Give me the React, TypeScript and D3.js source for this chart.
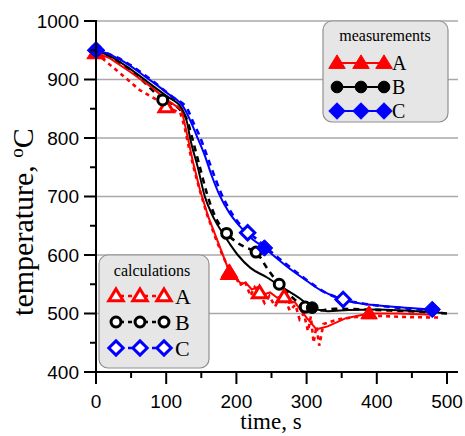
import React from "react";
import * as d3 from "d3";

// ---------- data ----------
const xTicks = [0, 100, 200, 300, 400, 500];
const yTicks = [400, 500, 600, 700, 800, 900, 1000];
const gridValues = [500, 600, 700, 800, 900, 1000];

// measurements (solid)
const measA_t = [0, 20, 50, 80, 100, 122, 129, 138, 148, 160, 176, 190, 200, 207, 213, 222, 230, 240, 248, 258, 265, 275, 283, 292, 300, 314, 330, 356, 389, 430, 480];
const measA_T = [946, 936, 912, 886, 866, 848, 810, 760, 712, 665, 615, 571, 560, 550, 553, 541, 545, 533, 536, 527, 530, 518, 520, 505, 493, 473, 478, 492, 500, 500, 498];
const measB_t = [0, 20, 50, 80, 100, 122, 130, 134, 145, 155, 165, 179, 190, 202, 220, 243, 265, 290, 308, 330, 360, 400, 440, 495];
const measB_T = [950, 940, 917, 890, 872, 851, 825, 800, 750, 700, 670, 640, 620, 600, 578, 562, 545, 526, 510, 504, 506, 507, 505, 501];
const measC_t = [0, 15, 40, 70, 100, 126, 135, 143, 155, 165, 175, 190, 205, 220, 240, 260, 280, 300, 320, 340, 360, 400, 440, 480];
const measC_T = [950, 945, 930, 905, 878, 850, 828, 805, 770, 735, 705, 672, 649, 630, 612, 592, 573, 556, 540, 529, 521, 514, 510, 507];

// calculations (dashed)
const calcA_t = [0, 20, 40, 62, 87, 100, 120, 126, 133, 140, 148, 158, 170, 180, 190, 198, 205, 212, 220, 226, 233, 240, 247, 255, 262, 268, 276, 284, 290, 296, 302, 306, 310, 314, 318, 324, 332, 345, 370, 400, 440, 490];
const calcA_T = [945, 925, 905, 882, 865, 853, 843, 820, 780, 745, 710, 670, 630, 600, 575, 565, 548, 556, 530, 545, 535, 518, 530, 512, 526, 528, 505, 515, 490, 500, 470, 495, 450, 478, 445, 482, 485, 490, 494, 496, 494, 493];
const calcB_t = [0, 30, 60, 95, 120, 130, 137, 148, 158, 170, 186, 200, 215, 228, 245, 261, 280, 298, 315, 340, 380, 420, 460, 500];
const calcB_T = [950, 932, 905, 866, 848, 830, 800, 750, 705, 665, 637, 622, 612, 605, 575, 550, 527, 511, 505, 508, 507, 505, 503, 500];
const calcC_t = [0, 20, 50, 80, 110, 130, 138, 147, 158, 168, 178, 193, 208, 216, 228, 245, 265, 285, 305, 325, 352, 380, 420, 460, 485];
const calcC_T = [950, 943, 924, 898, 869, 850, 828, 805, 770, 737, 706, 672, 648, 638, 628, 610, 590, 571, 553, 537, 524, 517, 511, 507, 505];

// markers
const measA_mt = [0, 190, 389];
const measA_mT = [946, 571, 500];
const measB_mt = [0, 308];
const measB_mT = [950, 510];
const measC_mt = [0, 240, 479];
const measC_mT = [950, 612, 507];
const calcA_mt = [0, 100, 190, 233, 268];
const calcA_mT = [945, 853, 568, 535, 528];
const calcB_mt = [0, 95, 186, 228, 261, 298];
const calcB_mT = [950, 865, 637, 605, 550, 511];
const calcC_mt = [0, 216, 352];
const calcC_mT = [950, 638, 524];

const seriesNames = ["A", "B", "C"];
const seriesColors = ["#ff0000", "#000000", "#0000ff"];

// ---------- layout ----------
const W = 465;
const H = 436;
const x = d3.scaleLinear().domain([0, 500]).range([96, 447]);
const y = d3.scaleLinear().domain([400, 1000]).range([372, 21]);
const X_END = 458;

const sans = "'Liberation Sans', Arial, sans-serif";
const serif = "'Liberation Serif', 'Times New Roman', serif";

type Shape = "tri" | "circ" | "dia";

function markerPath(shape: Shape, cx: number, cy: number, s: number): string {
  if (shape === "tri") {
    const h = s * 0.9;
    return `M${cx},${cy - h * 0.6}L${cx + s * 0.55},${cy + h * 0.4}L${cx - s * 0.55},${cy + h * 0.4}Z`;
  }
  if (shape === "dia") {
    const r = s * 0.55;
    return `M${cx},${cy - r}L${cx + r},${cy}L${cx},${cy + r}L${cx - r},${cy}Z`;
  }
  const r = s * 0.45;
  return `M${cx - r},${cy}a${r},${r} 0 1,0 ${2 * r},0a${r},${r} 0 1,0 ${-2 * r},0Z`;
}

const shapes: Shape[] = ["tri", "circ", "dia"];

function zip(ts: number[], vs: number[]): [number, number][] {
  return ts.map((t, i) => [t, vs[i]]);
}

const lineGen = d3
  .line<[number, number]>()
  .x((d) => x(d[0]))
  .y((d) => y(d[1]))
  .curve(d3.curveMonotoneX);

const lineJag = d3
  .line<[number, number]>()
  .x((d) => x(d[0]))
  .y((d) => y(d[1]))
  .curve(d3.curveLinear);

const meas = [
  { t: measA_t, T: measA_T, mt: measA_mt, mT: measA_mT },
  { t: measB_t, T: measB_T, mt: measB_mt, mT: measB_mT },
  { t: measC_t, T: measC_T, mt: measC_mt, mT: measC_mT },
];
const calc = [
  { t: calcA_t, T: calcA_T, mt: calcA_mt, mT: calcA_mT },
  { t: calcB_t, T: calcB_T, mt: calcB_mt, mT: calcB_mT },
  { t: calcC_t, T: calcC_T, mt: calcC_mt, mT: calcC_mT },
];

function FilledMarker({ shape, cx, cy, color }: { shape: Shape; cx: number; cy: number; color: string }) {
  const s = shape === "tri" ? 15 : shape === "circ" ? 13 : 15;
  return <path d={markerPath(shape, cx, cy, s)} fill={color} stroke={color} strokeWidth={1} />;
}

function HollowMarker({ shape, cx, cy, color }: { shape: Shape; cx: number; cy: number; color: string }) {
  const s = shape === "tri" ? 13 : shape === "circ" ? 11 : 13;
  return <path d={markerPath(shape, cx, cy, s)} fill="white" stroke={color} strokeWidth={3} />;
}

export default function App() {
  const minorY = d3.range(450, 1000, 100);
  const minorX = d3.range(50, 500, 100);

  return (
    <svg width={W} height={H} style={{ position: "absolute", left: 0, top: 0, background: "white" }}>
      {/* grid */}
      {gridValues.map((v) => (
        <line key={"g" + v} x1={x(0)} x2={X_END} y1={y(v)} y2={y(v)} stroke="#a8a8a8" strokeWidth={1.6} />
      ))}

      {/* calculation lines (dashed) */}
      {calc.map((c, i) => (
        <path
          key={"cl" + i}
          d={(i === 0 ? lineJag : lineGen)(zip(c.t, c.T)) || ""}
          fill="none"
          stroke={seriesColors[i]}
          strokeWidth={2.6}
          strokeDasharray={i === 0 ? "4,4" : "6,5"}
        />
      ))}
      {/* measurement lines (solid) */}
      {meas.map((m, i) => (
        <path
          key={"ml" + i}
          d={(i === 0 ? lineJag : lineGen)(zip(m.t, m.T)) || ""}
          fill="none"
          stroke={seriesColors[i]}
          strokeWidth={2}
        />
      ))}

      {/* calc markers */}
      {calc.map((c, i) =>
        c.mt.map((t, j) => (
          <HollowMarker key={`cm${i}-${j}`} shape={shapes[i]} cx={x(t)} cy={y(c.mT[j])} color={seriesColors[i]} />
        ))
      )}
      {/* meas markers */}
      {meas.map((m, i) =>
        m.mt.map((t, j) => (
          <FilledMarker key={`mm${i}-${j}`} shape={shapes[i]} cx={x(t)} cy={y(m.mT[j])} color={seriesColors[i]} />
        ))
      )}

      {/* axes */}
      <line x1={x(0)} x2={x(0)} y1={y(400) + 8} y2={y(1000) - 1} stroke="black" strokeWidth={2} />
      <line x1={x(0) - 1} x2={X_END} y1={y(400)} y2={y(400)} stroke="black" strokeWidth={2} />
      {yTicks.map((v) => (
        <g key={"yt" + v}>
          <line x1={x(0) - 12} x2={x(0)} y1={y(v)} y2={y(v)} stroke="black" strokeWidth={2} />
          <text x={79} y={y(v) + 6.5} textAnchor="end" fontFamily={sans} fontSize={19}>
            {v}
          </text>
        </g>
      ))}
      {minorY.map((v) => (
        <line key={"ym" + v} x1={x(0) - 6} x2={x(0)} y1={y(v)} y2={y(v)} stroke="black" strokeWidth={2} />
      ))}
      {xTicks.map((v) => (
        <g key={"xt" + v}>
          <line x1={x(v)} x2={x(v)} y1={y(400)} y2={y(400) + 12} stroke="black" strokeWidth={2} />
          <text x={x(v)} y={408} textAnchor="middle" fontFamily={sans} fontSize={19}>
            {v}
          </text>
        </g>
      ))}
      {minorX.map((v) => (
        <line key={"xm" + v} x1={x(v)} x2={x(v)} y1={y(400)} y2={y(400) + 6} stroke="black" strokeWidth={2} />
      ))}

      {/* axis titles */}
      <text x={271} y={429} textAnchor="middle" fontFamily={serif} fontSize={23}>
        time, s
      </text>
      <text
        transform="translate(33,222) rotate(-90)"
        textAnchor="middle"
        fontFamily={serif}
        fontSize={30}
      >
        temperature, <tspan dy={-10} fontSize={19}>o</tspan>
        <tspan dy={10}>C</tspan>
      </text>

      {/* measurements legend */}
      <rect x={323} y={21} width={125} height={101} rx={9} fill="#e6e6e6" stroke="#909090" strokeWidth={1.2} />
      <text x={385} y={41} textAnchor="middle" fontFamily={serif} fontSize={16}>
        measurements
      </text>
      {seriesNames.map((n, i) => {
        const ly = 63 + i * 24;
        const xs = [337, 361, 384];
        return (
          <g key={"lm" + n}>
            <line x1={xs[0]} x2={xs[2]} y1={ly} y2={ly} stroke={seriesColors[i]} strokeWidth={2} />
            {xs.map((lx) => (
              <FilledMarker key={lx} shape={shapes[i]} cx={lx} cy={ly} color={seriesColors[i]} />
            ))}
            <text x={392} y={ly + 7} fontFamily={serif} fontSize={20}>
              {n}
            </text>
          </g>
        );
      })}

      {/* calculations legend */}
      <rect x={99} y={255} width={110} height={113} rx={9} fill="#e6e6e6" stroke="#909090" strokeWidth={1.2} />
      <text x={152} y={276} textAnchor="middle" fontFamily={serif} fontSize={16}>
        calculations
      </text>
      {seriesNames.map((n, i) => {
        const ly = 296 + i * 26;
        const xs = [116, 140, 164];
        return (
          <g key={"lc" + n}>
            <line x1={xs[0]} x2={xs[2]} y1={ly} y2={ly} stroke={seriesColors[i]} strokeWidth={2.5} strokeDasharray="4,4" strokeDashoffset={-4} />
            {xs.map((lx) => (
              <HollowMarker key={lx} shape={shapes[i]} cx={lx} cy={ly} color={seriesColors[i]} />
            ))}
            <text x={175} y={ly + 8} fontFamily={serif} fontSize={22}>
              {n}
            </text>
          </g>
        );
      })}
    </svg>
  );
}
